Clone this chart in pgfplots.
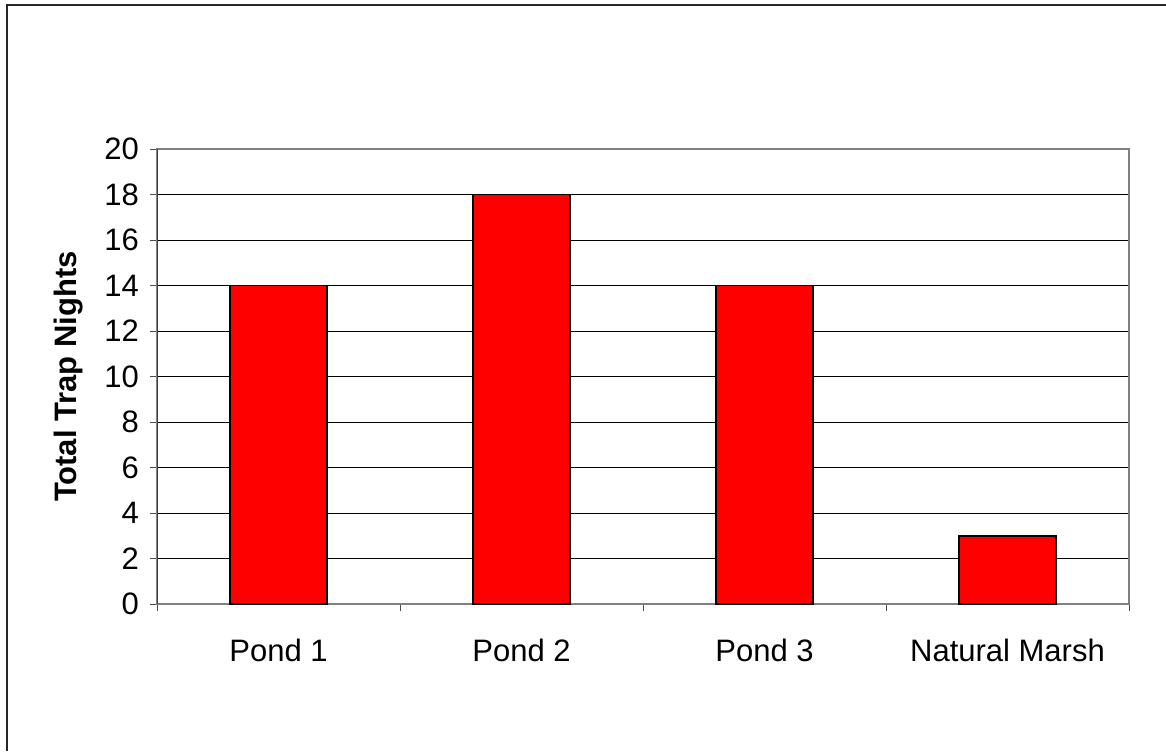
\documentclass[border=0pt]{standalone}
\usepackage{pgfplots}
\pgfplotsset{compat=1.18}
\usepackage{fontspec}
\setmainfont{Liberation Sans}
\begin{document}
\begin{tikzpicture}
\useasboundingbox (0,0) rectangle (583pt,375.5pt);
% outer chart frame (left and top edges)
\draw[line width=1pt, black!85] (3.5pt,0) -- (3.5pt,373pt) -- (583pt,373pt);
\begin{axis}[
  at={(78.5pt,73.5pt)}, anchor=south west,
  scale only axis, width=486pt, height=227.5pt,
  xmin=0, xmax=4, ymin=0, ymax=20,
  ytick={0,2,...,20},
  xtick={0.5,1.5,2.5,3.5},
  xticklabels={Pond 1,Pond 2,Pond 3,Natural Marsh},
  major x tick style={draw=none},
  minor xtick={0,1,2,3,4},
  minor x tick style={black!70},
  tick pos=left,
  tick align=outside,
  major tick length=3.5pt, minor tick length=3.5pt,
  y tick style={black!70},
  ymajorgrids, major grid style={black, line width=0.5pt},
  axis line style={gray, line width=0.75pt},
  tick label style={font=\fontsize{15.5}{18}\selectfont},
  /pgf/number format/assume math mode=true,
  xticklabel style={yshift=-10.5pt},
  yticklabel style={xshift=-2pt},
  ylabel={\textbf{Total Trap Nights}},
  ylabel style={font=\fontsize{15.5}{18}\selectfont, yshift=4pt},
  ybar, bar width=48.5pt,
]
\addplot[fill=red, draw=black, line width=0.9pt] coordinates {(0.5,14) (1.5,18) (2.5,14) (3.5,3)};
% left spine drawn darker than the rest of the frame
\draw[black!75, line width=0.9pt] (axis cs:0,0) -- (axis cs:0,20);
\end{axis}
\end{tikzpicture}
\end{document}
